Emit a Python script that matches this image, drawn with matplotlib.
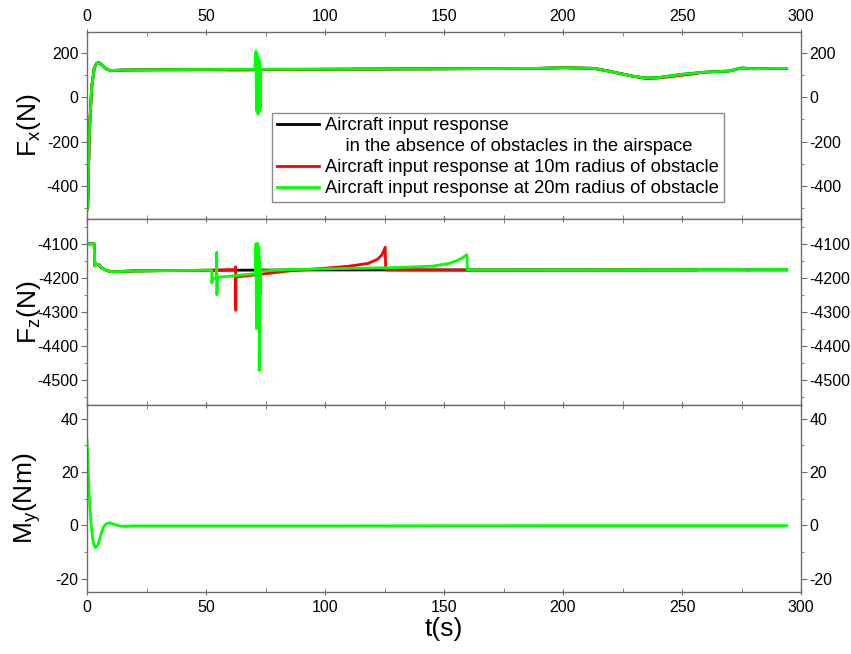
import matplotlib
matplotlib.use("Agg")
import matplotlib.pyplot as plt
from matplotlib.lines import Line2D
from matplotlib.ticker import MultipleLocator

plt.rcParams['font.family'] = ['Liberation Sans', 'DejaVu Sans']
plt.rcParams['mathtext.fontset'] = 'custom'
plt.rcParams['mathtext.rm'] = 'Liberation Sans'
plt.rcParams['axes.unicode_minus'] = False

# ---- F_x (N) ----
fx_t_black = [0, 0.3, 1, 2, 3, 4, 5, 6, 8, 10, 14, 20, 50, 100, 150, 190, 200, 213, 220, 230, 235, 240, 250, 260, 270, 275, 280, 290, 294]
fx_black = [-510, -500, -150, 50, 130, 155, 158, 150, 130, 122, 124, 125, 127, 128, 130, 132, 135, 132, 118, 95, 88, 90, 105, 115, 120, 134, 130, 132, 132]

fx_t_red = [0, 0.3, 1, 2, 3, 4, 5, 6, 8, 10, 14, 20, 50, 62, 100, 150, 190, 200, 213, 220, 230, 235, 240, 245, 250, 256]
fx_red = [-510, -500, -150, 50, 130, 155, 158, 150, 130, 122, 124, 125, 126, 124, 128, 130, 132, 135, 132, 118, 95, 86, 88, 94, 101, 108]

fx_t_green = [0, 0.3, 1, 2, 3, 4, 5, 6, 8, 10, 14, 20, 50, 70.5, 71, 71.2, 71.4, 71.6, 71.8, 72.0, 72.2, 72.4, 72.6, 72.8, 73, 74,
              100, 150, 190, 200, 213, 220, 230, 235, 240, 250, 260, 270, 275, 280, 290, 294]
fx_green = [-510, -500, -150, 50, 130, 155, 158, 150, 130, 122, 124, 125, 127, 128, 210, -60, 200, -70, 180, -75, 170, -60, 165, -50, 130, 128,
            128, 130, 132, 135, 132, 118, 95, 88, 90, 105, 115, 120, 134, 130, 132, 132]

# ---- F_z (N) ----
fz_t_black = [0, 3, 3.3, 4, 5, 6, 8, 10, 12, 20, 50, 100, 200, 294]
fz_black = [-4100, -4100, -4165, -4160, -4162, -4170, -4178, -4182, -4182, -4180, -4178, -4177, -4177, -4177]

fz_t_red = [0, 3, 3.3, 4, 5, 6, 8, 10, 12, 20, 50, 62.3, 62.4, 62.5, 62.6, 85, 100, 110, 118, 122, 124, 125.3, 125.5, 160, 256]
fz_red = [-4100, -4100, -4165, -4160, -4162, -4170, -4178, -4182, -4182, -4180, -4178, -4176, -4168, -4296, -4198, -4180, -4172, -4166, -4158, -4146, -4132, -4110, -4177, -4178, -4177]

fz_t_green = [0, 3, 3.3, 4, 5, 6, 8, 10, 12, 20, 50, 52.4, 52.5, 52.7, 54.4, 54.5, 54.6, 54.7, 62, 70.8, 71.0, 71.2, 71.4, 71.6, 71.8,
              72.0, 72.2, 72.4, 72.6, 72.8, 73.0, 85, 100, 130, 145, 152, 156, 158, 159.6, 159.8, 200, 276, 278, 280, 294]
fz_green = [-4100, -4100, -4165, -4160, -4162, -4170, -4178, -4182, -4182, -4180, -4178, -4178, -4215, -4203, -4200, -4125, -4250, -4199, -4194, -4188, -4100, -4350, -4100, -4340,
            -4100, -4300, -4110, -4473, -4150, -4250, -4180, -4176, -4174, -4170, -4166, -4158, -4148, -4140, -4132, -4177, -4177, -4176, -4179, -4176, -4176]

# ---- M_y (Nm) ----
my_t = [0, 0.3, 0.6, 1, 1.5, 2, 2.5, 3, 3.6, 4.5, 5, 6, 7, 8, 9, 10, 11, 12, 14, 16, 20, 100, 200, 294]
my_green = [32, 26, 18, 10, 3, -2, -5.5, -7.5, -8.4, -7.5, -6, -3, -0.5, 0.5, 0.9, 0.8, 0.5, 0.2, -0.3, -0.3, -0.2, -0.2, -0.1, -0.1]

colors = {'black': '#000000', 'red': '#ff0000', 'green': '#00ff00'}
labels = ['Aircraft input response',
          '    in the absence of obstacles in the airspace',
          'Aircraft input response at 10m radius of obstacle',
          'Aircraft input response at 20m radius of obstacle']

fig = plt.figure(figsize=(8.51, 6.54), dpi=100)
left, right, top, bottom = 87 / 851, 801 / 851, 1 - 32 / 654, 1 - 592 / 654
h = (top - bottom) / 3
axes = [fig.add_axes([left, top - (i + 1) * h, right - left, h]) for i in range(3)]
ax1, ax2, ax3 = axes

lw = 2.0
ax1.plot(fx_t_black, fx_black, color=colors['black'], lw=lw)
ax1.plot(fx_t_red, fx_red, color=colors['red'], lw=lw)
ax1.plot(fx_t_green, fx_green, color=colors['green'], lw=lw)

ax2.plot(fz_t_black, fz_black, color=colors['black'], lw=lw)
ax2.plot(fz_t_red, fz_red, color=colors['red'], lw=lw)
ax2.plot(fz_t_green, fz_green, color=colors['green'], lw=lw)

ax3.plot(my_t, my_green, color=colors['green'], lw=lw)

ax1.set_ylim(-550, 297)
ax2.set_ylim(-4576, -4026)
ax3.set_ylim(-25, 45)
ax1.yaxis.set_major_locator(MultipleLocator(200))
ax1.yaxis.set_minor_locator(MultipleLocator(100))
ax2.yaxis.set_major_locator(MultipleLocator(100))
ax2.yaxis.set_minor_locator(MultipleLocator(50))
ax3.yaxis.set_major_locator(MultipleLocator(20))
ax3.yaxis.set_minor_locator(MultipleLocator(10))

for i, ax in enumerate(axes):
    ax.set_xlim(0, 300)
    ax.xaxis.set_major_locator(MultipleLocator(50))
    ax.xaxis.set_minor_locator(MultipleLocator(25))
    for s in ax.spines.values():
        s.set_color('#6e6e6e')
        s.set_linewidth(1.0)
    ax.tick_params(axis='both', which='both', colors='#6e6e6e', labelcolor='black', labelsize=11.5)
    ax.tick_params(axis='y', which='both', direction='out', left=True, right=True,
                   labelleft=True, labelright=True, pad=2)
    ax.tick_params(axis='y', which='major', length=4)
    ax.tick_params(axis='y', which='minor', length=2.5)
    ax.tick_params(axis='x', which='major', direction='inout', length=5, pad=3)
    ax.tick_params(axis='x', which='minor', direction='in', length=3)
    ax.tick_params(axis='x', which='both', top=True, bottom=True,
                   labeltop=(i == 0), labelbottom=(i == 2))

ax1.set_ylabel(r'F$_\mathregular{x}$(N)', fontsize=19)
ax2.set_ylabel(r'F$_\mathregular{z}$(N)', fontsize=19)
ax3.set_ylabel(r'M$_\mathregular{y}$(Nm)', fontsize=19)
for ax in axes:
    ax.yaxis.set_label_coords(-0.062, 0.5)
ax3.set_xlabel('t(s)', fontsize=19, labelpad=2)

handles = [Line2D([], [], color=colors['black'], lw=lw),
           Line2D([], [], color='none', lw=lw),
           Line2D([], [], color=colors['red'], lw=lw),
           Line2D([], [], color=colors['green'], lw=lw)]
leg = ax1.legend(handles, labels, loc='lower left', bbox_to_anchor=(0.259, 0.089),
                 borderaxespad=0, fontsize=13.2, frameon=True, fancybox=False,
                 handlelength=2.3, handletextpad=0.35, labelspacing=0.22,
                 borderpad=0.25)
leg.get_frame().set_edgecolor('#6e6e6e')
leg.get_frame().set_linewidth(1.0)

fig.savefig('out.png', dpi=100)
